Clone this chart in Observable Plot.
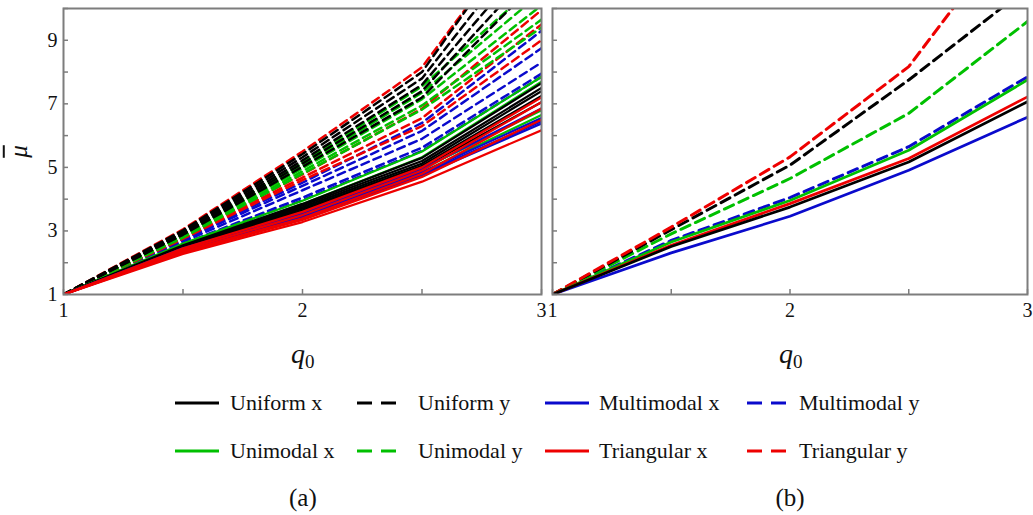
<!DOCTYPE html>
<html><head><meta charset="utf-8">
<script src="https://cdn.jsdelivr.net/npm/d3@7"></script>
<script src="https://cdn.jsdelivr.net/npm/@observablehq/plot@0.6"></script>
<style>
body{margin:0;background:#fff;}
#root{position:relative;width:1033px;height:515px;font-family:"Liberation Serif","Times New Roman",serif;color:#111;overflow:hidden;background:#fff}
.abs{position:absolute;white-space:nowrap;line-height:1}
.plot{position:absolute;top:0}
.lg{position:absolute;font-size:22px;line-height:1;white-space:nowrap}
.sw{position:absolute}
</style></head><body><div id="root"></div>
<script>
// ---- data ----
const q0 = [1, 1.5, 2, 2.5, 3];
const yTicks = [1, 2, 3, 4, 5, 6, 7, 8, 9, 10];
const yLabels = [1, 3, 5, 7, 9];
const xTicks = [1, 1.5, 2, 2.5, 3];
const xLabels = [1, 2, 3];
const seriesNames = ["Uniform x", "Uniform y", "Multimodal x", "Multimodal y", "Unimodal x", "Unimodal y", "Triangular x", "Triangular y"];
const seriesColors = ["#000000", "#000000", "#0a0acc", "#0a0acc", "#00c000", "#00c000", "#ee0000", "#ee0000"];
const seriesDashed = [false, true, false, true, false, true, false, true];

// panel (a): several curves per series, values at q0 = 1, 1.5, 2, 2.5, 3
const aUniformY = [
  [1, 3.02, 5.42, 8.00, 13.3],
  [1, 2.98, 5.32, 7.80, 12.6],
  [1, 2.95, 5.22, 7.60, 12.0],
  [1, 2.92, 5.12, 7.40, 11.5],
  [1, 2.88, 5.02, 7.20, 11.0]
];
const aUnimodalY = [
  [1, 2.92, 5.15, 7.55, 10.9],
  [1, 2.88, 5.05, 7.35, 10.5],
  [1, 2.85, 4.97, 7.15, 10.1],
  [1, 2.82, 4.88, 6.95, 9.65],
  [1, 2.79, 4.80, 6.82, 9.4]
];
const aTriangularY = [
  [1, 3.05, 5.50, 8.15, 13.2],
  [1, 2.82, 4.78, 6.85, 9.95],
  [1, 2.78, 4.68, 6.55, 9.5],
  [1, 2.75, 4.60, 6.30, 9.0]
];
const aMultimodalY = [
  [1, 2.74, 4.52, 6.40, 9.30],
  [1, 2.71, 4.42, 6.15, 8.75],
  [1, 2.66, 4.28, 5.90, 8.30],
  [1, 2.60, 4.05, 5.62, 7.95],
  [1, 2.57, 3.97, 5.52, 7.85]
];
const aUniformX = [
  [1, 2.55, 3.85, 5.30, 7.65],
  [1, 2.52, 3.80, 5.20, 7.50],
  [1, 2.50, 3.75, 5.12, 7.40],
  [1, 2.48, 3.70, 5.05, 7.25],
  [1, 2.45, 3.65, 5.00, 7.05]
];
const aUnimodalX = [
  [1, 2.60, 3.95, 5.50, 7.85],
  [1, 2.55, 3.85, 5.32, 7.70],
  [1, 2.45, 3.55, 4.95, 6.80],
  [1, 2.42, 3.50, 4.85, 6.65]
];
const aTriangularX = [
  [1, 2.45, 3.60, 5.00, 7.20],
  [1, 2.40, 3.50, 4.90, 7.05],
  [1, 2.35, 3.40, 4.80, 6.85],
  [1, 2.32, 3.35, 4.70, 6.50],
  [1, 2.28, 3.28, 4.55, 6.17]
];
const aMultimodalX = [
  [1, 2.45, 3.55, 4.95, 6.85],
  [1, 2.40, 3.45, 4.85, 6.55],
  [1, 2.38, 3.40, 4.80, 6.45],
  [1, 2.35, 3.38, 4.75, 6.38]
];

// panel (b): one curve per series
const bUniformX = [1, 2.51, 3.75, 5.17, 7.07];
const bUniformY = [1, 3.04, 5.07, 7.75, 10.65];
const bMultimodalX = [1, 2.31, 3.46, 4.91, 6.58];
const bMultimodalY = [1, 2.70, 4.05, 5.65, 7.85];
const bUnimodalX = [1, 2.65, 3.96, 5.54, 7.75];
const bUnimodalY = [1, 2.91, 4.65, 6.70, 9.59];
const bTriangularX = [1, 2.55, 3.86, 5.28, 7.22];
const bTriangularY = [1, 3.12, 5.33, 8.17, 13.1];

// ---- helpers ----
function toRows(series, curves) {
  return curves.flatMap((c, k) => c.map((v, i) => ({q0: q0[i], mu: v, series, id: series + k})));
}
const aDashed = [
  ...toRows("Multimodal y", aMultimodalY), ...toRows("Triangular y", aTriangularY),
  ...toRows("Unimodal y", aUnimodalY), ...toRows("Uniform y", aUniformY)
];
const aSolid = [
  ...toRows("Unimodal x", aUnimodalX), ...toRows("Uniform x", aUniformX),
  ...toRows("Multimodal x", aMultimodalX), ...toRows("Triangular x", aTriangularX)
];
const bDashed = [
  ...toRows("Multimodal y", [bMultimodalY]), ...toRows("Unimodal y", [bUnimodalY]),
  ...toRows("Uniform y", [bUniformY]), ...toRows("Triangular y", [bTriangularY])
];
const bSolid = [
  ...toRows("Unimodal x", [bUnimodalX]), ...toRows("Multimodal x", [bMultimodalX]),
  ...toRows("Triangular x", [bTriangularX]), ...toRows("Uniform x", [bUniformX])
];

const FRAME = "#7d7d7d";
const fmt = d => String(d);
function panel({dashed, solid, width, marginLeft, marginRight, showYLabels, lw, dash}) {
  return Plot.plot({
    width, height: 330,
    marginLeft, marginRight, marginTop: 8, marginBottom: 36,
    x: {domain: [1, 3], label: null},
    y: {domain: [1, 10], label: null},
    color: {domain: seriesNames, range: seriesColors},
    style: {fontFamily: '"Liberation Serif", "Times New Roman", serif', fontSize: "20px", color: "#111", background: "transparent", overflow: "visible"},
    marks: [
      Plot.line(dashed, {x: "q0", y: "mu", z: "id", stroke: "series", strokeWidth: lw, strokeDasharray: dash, clip: true}),
      Plot.line(solid, {x: "q0", y: "mu", z: "id", stroke: "series", strokeWidth: lw * 0.9, clip: true}),
      Plot.frame({stroke: FRAME, strokeWidth: 2}),
      Plot.axisY({ticks: yTicks, tickSize: -5, tickFormat: () => "", stroke: FRAME, strokeWidth: 1.5, label: null}),
      showYLabels ? Plot.axisY({ticks: yLabels, tickSize: 0, tickPadding: 6, tickFormat: fmt, label: null, fill: "#111"}) : null,
      Plot.axisX({ticks: xTicks, tickSize: -5, tickFormat: () => "", stroke: FRAME, strokeWidth: 1.5, label: null}),
      Plot.axisX({ticks: xLabels, tickSize: 0, tickPadding: 8, tickFormat: fmt, label: null, fill: "#111"})
    ]
  });
}

const root = document.getElementById("root");
const pa = panel({dashed: aDashed, solid: aSolid, width: 548, marginLeft: 63, marginRight: 7, showYLabels: true, lw: 2.5, dash: "8,5"});
pa.classList.add("plot"); pa.style.left = "0px";
const pb = panel({dashed: bDashed, solid: bSolid, width: 493, marginLeft: 12, marginRight: 6, showYLabels: false, lw: 3, dash: "10,6"});
pb.classList.add("plot"); pb.style.left = "540px";
root.appendChild(pa);
root.appendChild(pb);

function addText(html, x, y, css) {
  const d = document.createElement("div");
  d.className = "abs";
  d.innerHTML = html;
  d.style.cssText += css;
  root.appendChild(d);
  d.style.left = (x - d.offsetWidth / 2) + "px";
  d.style.top = (y - d.offsetHeight / 2) + "px";
  return d;
}
// axis titles
const qHtml = '<span style="font-style:italic;font-size:28px">q</span><span style="font-size:19px;position:relative;top:5px">0</span>';
addText(qHtml, 303, 354, "");
addText(qHtml, 791, 354, "");
const mu = addText('<span style="text-decoration:overline;font-style:italic">μ</span>', 18, 151, "font-size:25px;");
mu.style.transform = "rotate(-90deg)";
// panel tags
addText("(a)", 303, 497, "font-size:25px;");
addText("(b)", 790, 497, "font-size:25px;");

// legend
const legendSwatchX = [175, 357, 545, 747];
const legendTextX = [230, 418, 599, 799];
const legendRowY = [403, 451];
const legendOrder = [["Uniform x", "Uniform y", "Multimodal x", "Multimodal y"], ["Unimodal x", "Unimodal y", "Triangular x", "Triangular y"]];
legendOrder.forEach((row, r) => {
  row.forEach((name, c) => {
    const i = seriesNames.indexOf(name);
    const dashed = seriesDashed[i];
    const w = dashed ? 39 : 44;
    const ns = "http://www.w3.org/2000/svg";
    const s = document.createElementNS(ns, "svg");
    s.setAttribute("width", w); s.setAttribute("height", 6);
    s.setAttribute("class", "sw");
    s.style.left = legendSwatchX[c] + "px";
    s.style.top = (legendRowY[r] - 3) + "px";
    const l = document.createElementNS(ns, "line");
    l.setAttribute("x1", 0); l.setAttribute("x2", w); l.setAttribute("y1", 3); l.setAttribute("y2", 3);
    l.setAttribute("stroke", seriesColors[i]); l.setAttribute("stroke-width", 3.2);
    if (dashed) l.setAttribute("stroke-dasharray", "15,9");
    s.appendChild(l);
    root.appendChild(s);
    const t = document.createElement("div");
    t.className = "lg";
    t.textContent = name;
    root.appendChild(t);
    t.style.left = legendTextX[c] + "px";
    t.style.top = (legendRowY[r] - t.offsetHeight / 2) + "px";
  });
});
</script>
</body></html>
